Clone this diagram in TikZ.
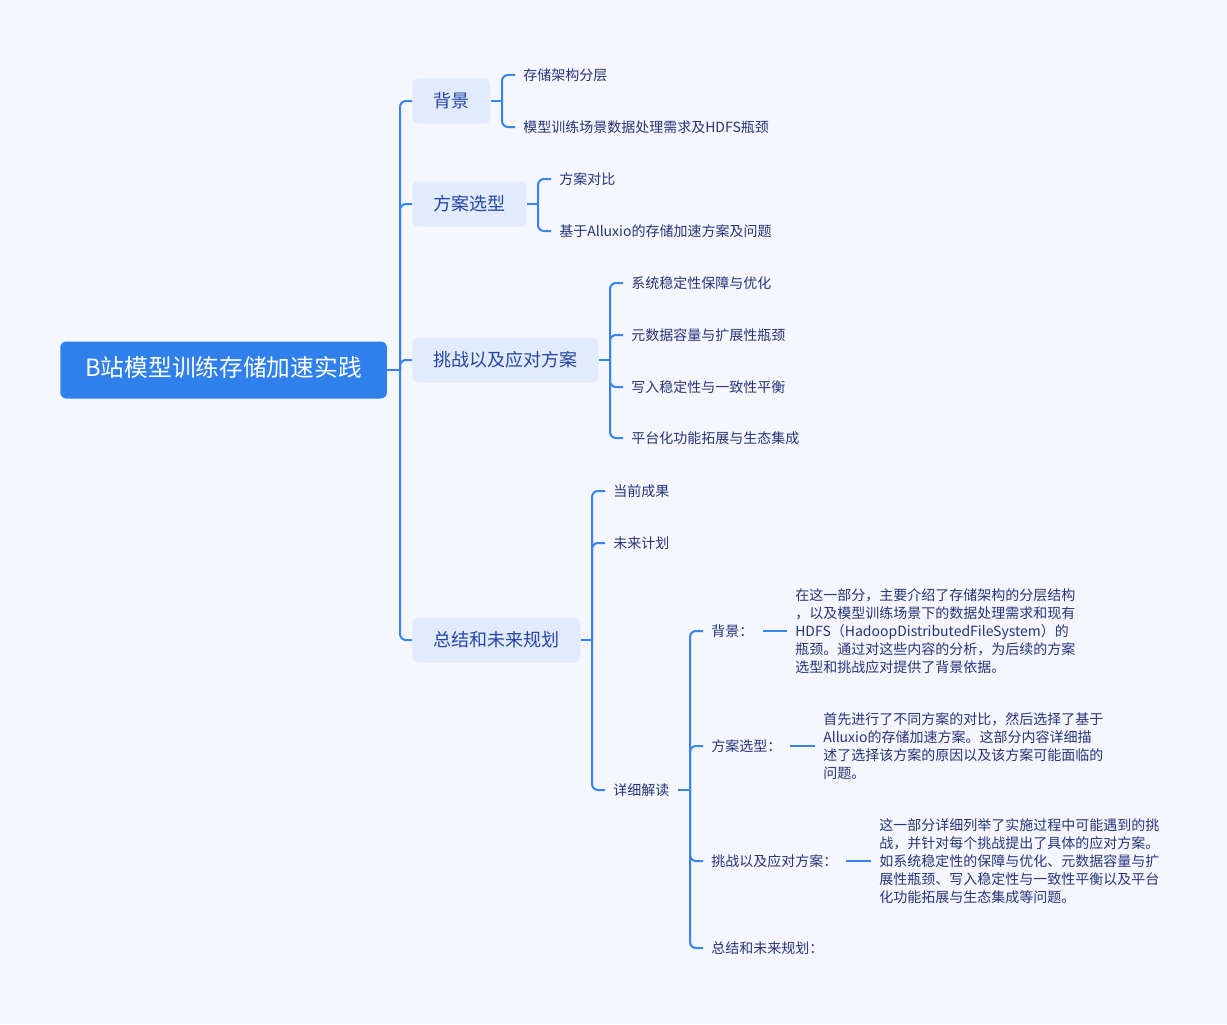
\documentclass[tikz,border=0pt]{standalone}
\usepackage{fontspec}
\setmainfont{Noto Sans CJK SC}
\definecolor{bgc}{HTML}{F5F6FE}
\definecolor{rootc}{HTML}{3080EB}
\definecolor{subc}{HTML}{E2EAFD}
\definecolor{lc}{HTML}{3584F0}
\definecolor{subt}{HTML}{2346A6}
\definecolor{leaft}{HTML}{27357A}
\begin{document}
\begin{tikzpicture}[x=0.75pt,y=-0.75pt,
  conn/.style={draw=lc, line width=1.5pt, rounded corners=4.5pt},
  roottopic/.style={fill=rootc, rounded corners=4.5pt, text=white, font=\fontsize{17.8}{22}\selectfont, minimum height=42.75pt, inner xsep=18.75pt, inner ysep=0pt, anchor=west, text height=1em, text depth=0em},
  subtopic/.style={fill=subc, rounded corners=4.5pt, text=subt, font=\fontsize{13.5}{16}\selectfont, minimum height=33.75pt, inner xsep=15.75pt, inner ysep=0pt, anchor=west, text height=1em, text depth=0em},
  leaf/.style={text=leaft, font=\fontsize{10.5}{13.5}\selectfont, inner sep=0pt, anchor=west, text height=0.92em, text depth=0.08em},
  para/.style={text=leaft, font=\fontsize{10.5}{13.5}\selectfont, inner sep=0pt, anchor=west, align=left},
]
\fill[bgc] (0,0) rectangle (1227,1024);
\useasboundingbox (0,0) rectangle (1227,1024);

% root and main topics
\node[roottopic] (root) at (60,370) {B站模型训练存储加速实践};
\node[subtopic] (s1) at (412,101) {背景};
\node[subtopic] (s2) at (412,204) {方案选型};
\node[subtopic] (s3) at (412,360) {挑战以及应对方案};
\node[subtopic] (s4) at (412,640) {总结和未来规划};

\coordinate (j0) at (400,370);
\draw[conn] (root.east) -- (j0);
\foreach \s in {s1,s2,s3,s4} \draw[conn] (j0) |- (\s.west);

% 背景
\node[leaf] (l11) at (523,75) {存储架构分层};
\node[leaf] (l12) at (523,127) {模型训练场景数据处理需求及HDFS瓶颈};
\coordinate (j1) at (502,101);
\draw[conn] (s1.east) -- (j1);
\foreach \l in {l11,l12} \draw[conn] (j1) |- ([xshift=-6pt]\l.west);

% 方案选型
\node[leaf] (l21) at (559,179) {方案对比};
\node[leaf] (l22) at (559,231) {基于Alluxio的存储加速方案及问题};
\coordinate (j2) at (538,204);
\draw[conn] (s2.east) -- (j2);
\foreach \l in {l21,l22} \draw[conn] (j2) |- ([xshift=-6pt]\l.west);

% 挑战以及应对方案
\node[leaf] (l31) at (631,283) {系统稳定性保障与优化};
\node[leaf] (l32) at (631,335) {元数据容量与扩展性瓶颈};
\node[leaf] (l33) at (631,387) {写入稳定性与一致性平衡};
\node[leaf] (l34) at (631,438) {平台化功能拓展与生态集成};
\coordinate (j3) at (610,360);
\draw[conn] (s3.east) -- (j3);
\foreach \l in {l31,l32,l33,l34} \draw[conn] (j3) |- ([xshift=-6pt]\l.west);

% 总结和未来规划
\node[leaf] (l41) at (613,491) {当前成果};
\node[leaf] (l42) at (613,543) {未来计划};
\node[leaf] (l43) at (613,790) {详细解读};
\coordinate (j4) at (592,640);
\draw[conn] (s4.east) -- (j4);
\foreach \l in {l41,l42,l43} \draw[conn] (j4) |- ([xshift=-6pt]\l.west);

% 详细解读
\node[leaf] (d1) at (711,631) {背景：};
\node[leaf] (d2) at (711,746) {方案选型：};
\node[leaf] (d3) at (711,861) {挑战以及应对方案：};
\node[leaf] (d4) at (711,948) {总结和未来规划：};
\coordinate (j5) at (690,790);
\draw[conn] ([xshift=6pt]l43.east) -- (j5);
\foreach \l in {d1,d2,d3,d4} \draw[conn] (j5) |- ([xshift=-6pt]\l.west);

\node[para] (p1) at (795,631) {在这一部分，主要介绍了存储架构的分层结构\\，以及模型训练场景下的数据处理需求和现有\\HDFS（HadoopDistributedFileSystem）的\\瓶颈。通过对这些内容的分析，为后续的方案\\选型和挑战应对提供了背景依据。};
\node[para] (p2) at (823,746) {首先进行了不同方案的对比，然后选择了基于\\Alluxio的存储加速方案。这部分内容详细描\\述了选择该方案的原因以及该方案可能面临的\\问题。};
\node[para] (p3) at (879,861) {这一部分详细列举了实施过程中可能遇到的挑\\战，并针对每个挑战提出了具体的应对方案。\\如系统稳定性的保障与优化、元数据容量与扩\\展性瓶颈、写入稳定性与一致性平衡以及平台\\化功能拓展与生态集成等问题。};
\draw[conn] ([xshift=6.75pt]d1.east) -- ([xshift=-6pt]p1.west);
\draw[conn] ([xshift=6pt]d2.east) -- ([xshift=-6pt]p2.west);
\draw[conn] ([xshift=6pt]d3.east) -- ([xshift=-6pt]p3.west);
\end{tikzpicture}
\end{document}
